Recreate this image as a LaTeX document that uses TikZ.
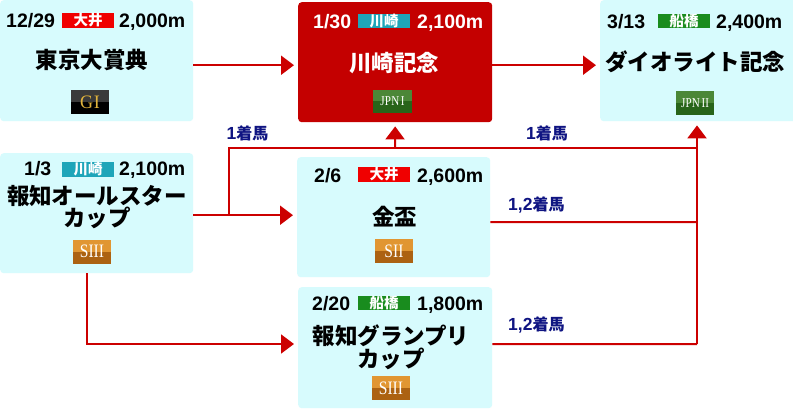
\documentclass[tikz,border=0pt]{standalone}
\usepackage{fontspec}
\setmainfont{Liberation Sans}
\newfontfamily\jpf{Noto Sans CJK JP}
\newfontfamily\serf{Liberation Serif}
\usetikzlibrary{arrows.meta,calc}
\definecolor{boxcyan}{RGB}{215,251,253}
\definecolor{boxred}{RGB}{196,0,0}
\definecolor{linered}{RGB}{204,0,0}
\definecolor{navy}{RGB}{15,20,130}
\definecolor{tagred}{RGB}{240,0,0}
\definecolor{tagteal}{RGB}{30,165,185}
\definecolor{taggreen}{RGB}{25,140,30}
\definecolor{gtop}{RGB}{58,58,58}
\definecolor{gbot}{RGB}{0,0,0}
\definecolor{jtop}{RGB}{75,135,55}
\definecolor{jbot}{RGB}{40,100,25}
\definecolor{stop}{RGB}{225,150,50}
\definecolor{sbot}{RGB}{172,98,18}
\definecolor{gold}{RGB}{225,180,60}
\tikzset{
  racebox/.style={rectangle, rounded corners=3.5pt, inner sep=0pt, anchor=north west, draw=none},
  datetxt/.style={anchor=base west, inner sep=0pt, font=\bfseries\fontsize{19.5}{19.5}\selectfont},
  tagbox/.style={rectangle, inner sep=0pt, anchor=north west, minimum width=52pt, minimum height=14.5pt, text=white, font=\jpf\bfseries\fontsize{14.5}{14.5}\selectfont},
  titletxt/.style={inner sep=0pt, align=center, font=\jpf\bfseries\fontsize{22.5}{20.5}\selectfont},
  badge/.style 2 args={rectangle, inner sep=0pt, minimum width=38pt, minimum height=24pt, fill=#2,
    path picture={\fill[#1] (path picture bounding box.north west) rectangle (path picture bounding box.east);}},
  badgetxt/.style={inner sep=0pt, font=\serf\fontsize{19}{19}\selectfont},
  jpntxt/.style={inner sep=0pt, text=white, font=\serf\fontsize{13.5}{13.5}\selectfont},
  conn/.style={draw=linered, line width=2pt},
  arr/.style={conn, -{Triangle[length=13pt,width=19pt]}, shorten >=4pt},
  lbl/.style={anchor=west, inner sep=0pt, text=navy, font=\bfseries\fontsize{17.5}{17.5}\selectfont}
}
\newcommand{\jpl}[1]{{\jpf\bfseries\fontsize{16}{16}\selectfont #1}}
\newcommand{\narrow}[1]{\scalebox{0.82}[1]{#1}}
\begin{document}
\begin{tikzpicture}[x=1pt,y=-1pt]
\useasboundingbox (0,0) rectangle (793,409);
\fill[white] (0,0) rectangle (793,409);

% boxes
\node[racebox, fill=boxcyan, minimum width=193pt, minimum height=121pt] (A) at (0,0) {};
\node[racebox, fill=boxred, minimum width=194pt, minimum height=120pt] (B) at (298,2) {};
\node[racebox, fill=boxcyan, minimum width=196pt, minimum height=121pt] (C) at (600,0) {};
\node[racebox, fill=boxcyan, minimum width=193pt, minimum height=120pt] (D) at (0,153) {};
\node[racebox, fill=boxcyan, minimum width=193pt, minimum height=120pt] (E) at (297,157) {};
\node[racebox, fill=boxcyan, minimum width=194pt, minimum height=121pt] (F) at (298,287) {};

% box A
\node[datetxt] (Ad) at (6,27.3) {12/29};
\node[tagbox, fill=tagred] (At) at (62,13) {大井};
\node[datetxt] (Am) at (119,27.3) {2,000m};
\node[titletxt] (An) at (92,60) {東京大賞典};
\node[badge={gtop}{gbot}] (Ab) at (90,102) {};
\node[badgetxt, text=gold] (Abt) at (Ab) {\scalebox{0.95}[1]{G\kern1pt I}};

% box B
\node[datetxt, text=white] (Bd) at (313,28.3) {1/30};
\node[tagbox, fill=tagteal] (Bt) at (358,13.5) {川崎};
\node[datetxt, text=white] (Bm) at (417,28.3) {2,100m};
\node[titletxt, text=white] (Bn) at (394,63) {川崎記念};
\node[badge={jtop}{jbot}, minimum width=39pt, minimum height=23pt] (Bb) at (392.5,101.5) {};
\node[jpntxt] (Bbt) at (Bb) {\narrow{J\kern0.3pt P\kern0.3pt N\kern2pt I}};

% box C
\node[datetxt] (Cd) at (607,28.3) {3/13};
\node[tagbox, fill=taggreen] (Ct) at (658,13.5) {船橋};
\node[datetxt] (Cm) at (716,28.3) {2,400m};
\node[titletxt] (Cn) at (695,62) {ダイオライト記念};
\node[badge={jtop}{jbot}] (Cb) at (695,103) {};
\node[jpntxt] (Cbt) at (Cb) {\narrow{J\kern0.3pt P\kern0.3pt N\kern2pt II}};

% box D
\node[datetxt] (Dd) at (24,176) {1/3};
\node[tagbox, fill=tagteal] (Dt) at (62,162) {川崎};
\node[datetxt] (Dm) at (119,176) {2,100m};
\node[titletxt] (Dn) at (97,207) {報知オールスター\\カップ};
\node[badge={stop}{sbot}] (Db) at (92,251.5) {};
\node[badgetxt, text=white] (Dbt) at (Db) {\narrow{SIII}};

% box E
\node[datetxt] (Ed) at (314,182.3) {2/6};
\node[tagbox, fill=tagred] (Et) at (358,167) {大井};
\node[datetxt] (Em) at (417,182.3) {2,600m};
\node[titletxt] (En) at (394.5,217) {金盃};
\node[badge={stop}{sbot}] (Eb) at (394,251) {};
\node[badgetxt, text=white] (Ebt) at (Eb) {\narrow{SII}};

% box F
\node[datetxt] (Fd) at (312,310.7) {2/20};
\node[tagbox, fill=taggreen] (Ft) at (358,295.5) {船橋};
\node[datetxt] (Fm) at (417,310.7) {1,800m};
\node[titletxt] (Fn) at (391,347) {報知グランプリ\\カップ};
\node[badge={stop}{sbot}] (Fb) at (391,388) {};
\node[badgetxt, text=white] (Fbt) at (Fb) {\narrow{SIII}};

% junction coordinates
\coordinate (jD) at (229,215);
\coordinate (jTop) at (229,148);
\coordinate (jB) at (395,148);
\coordinate (jR) at (697,148);
\coordinate (jE) at (697,222);
\coordinate (jF) at (697,344);
\coordinate (jDdown) at (87,344);

% connectors
\draw[arr] ([yshift=-4.5pt]A.east) -- ([yshift=-4.5pt]A.east -| B.west);
\draw[arr] ([yshift=-3pt]B.east) -- ([yshift=-3pt]B.east -| C.west);
\draw[arr] ([yshift=-2pt]D.east) -- ([yshift=-2pt]D.east -| E.west);
\draw[conn] (jD) -- (jTop) -- (jR);
\draw[arr] (jB) -- (B.south);
\draw[arr] (jF) -- (C.south -| jF);
\draw[conn] ([yshift=-5pt]E.east) -- (jE);
\draw[conn] ([yshift=3.5pt]F.east) -- (jF);
\draw[arr] (D.south -| jDdown) -- (jDdown) -- (jDdown -| F.west);

% labels
\node[lbl] (L1) at (226.5,133) {1\jpl{着馬}};
\node[lbl] (L2) at (526,133) {1\jpl{着馬}};
\node[lbl] (L3) at (508,205) {1,2\jpl{着馬}};
\node[lbl] (L4) at (508,325) {1,2\jpl{着馬}};
\end{tikzpicture}
\end{document}
